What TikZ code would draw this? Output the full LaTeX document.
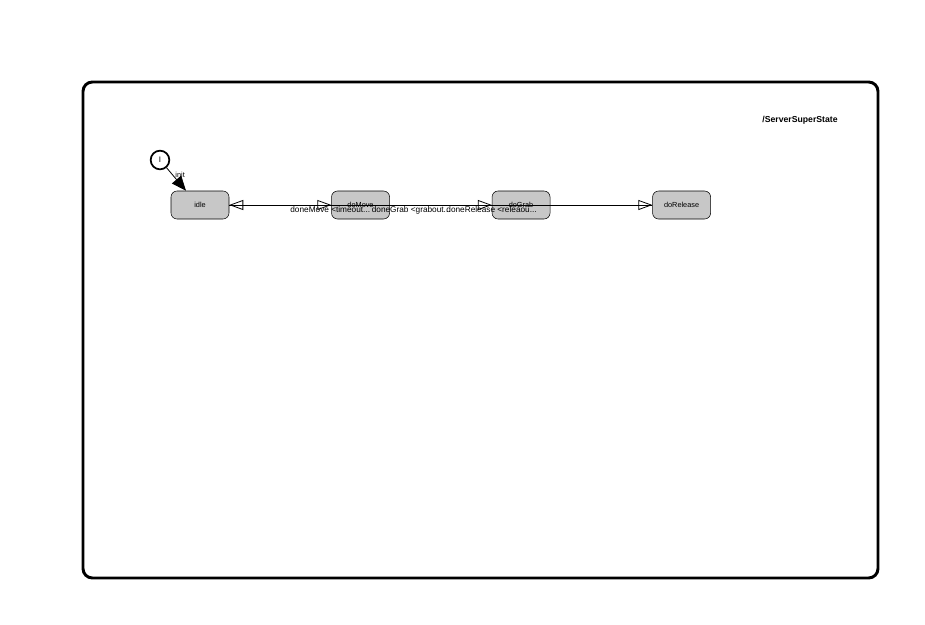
\documentclass[tikz,border=0pt]{standalone}
\usepackage{fontspec}
\setmainfont{Liberation Sans}
\usetikzlibrary{arrows.meta,positioning}

\begin{document}
\begin{tikzpicture}[x=0.75pt,y=-0.75pt,  %pixel grid of the screen shot
		state/.style={rectangle,rounded corners=4.5pt,draw=black,fill=black!22,
			minimum width=43.5pt,minimum height=21pt,inner sep=0pt,font=\fontsize{5.5}{6}\selectfont},
		start/.style={circle,draw=black,line width=1.3pt,fill=white,minimum size=14pt,inner sep=0pt,
			font=\fontsize{6}{6}\selectfont},
		trans/.style={draw=black,line width=0.6pt,-{Triangle[open,length=10.5pt,width=7.5pt]}},
		tlabel/.style={font=\fontsize{6.2}{6.5}\selectfont,inner sep=1pt,text=black}
	]
		\useasboundingbox (0,0) rectangle (925,625);
		% super state frame
		\draw[line width=2.2pt,rounded corners=7pt] (83,82) rectangle (878,578);
		\node[font=\bfseries\fontsize{6.5}{7}\selectfont] (title) at (800,120) {/ServerSuperState};

		\node[start] (init) at (160,160) {I};
		\node[state] (idle) at (200,205) {idle};
		\node[state] (doMove) [right=76.5pt of idle] {doMove};
		\node[state] (doGrab) [right=76.5pt of doMove] {doGrab};
		\node[state] (doRelease) [right=76.5pt of doGrab] {doRelease};
		\coordinate (idleIn) at ([xshift=-10.5pt]idle.north);

		\draw[line width=0.6pt,-{Triangle[length=11pt,width=9pt]}] (init) -- (idleIn)
			node[pos=0.3,right=1pt,tlabel,font=\fontsize{5.5}{6}\selectfont] {init};

		\draw[trans] (idle) -- (doMove)
			node[pos=0.99,below=0pt,tlabel] {doneMove <timeout...};
		\draw[trans] (doMove) -- (doGrab)
			node[pos=0.21,below=0pt,tlabel] {doneGrab <grabout...};
		\draw[trans] (doGrab) -- (doRelease);
		\draw[trans] (doRelease) -- (idle)
			node[pos=0.38,below=0pt,tlabel] {doneRelease <releaou...};
	\end{tikzpicture}
\end{document}
